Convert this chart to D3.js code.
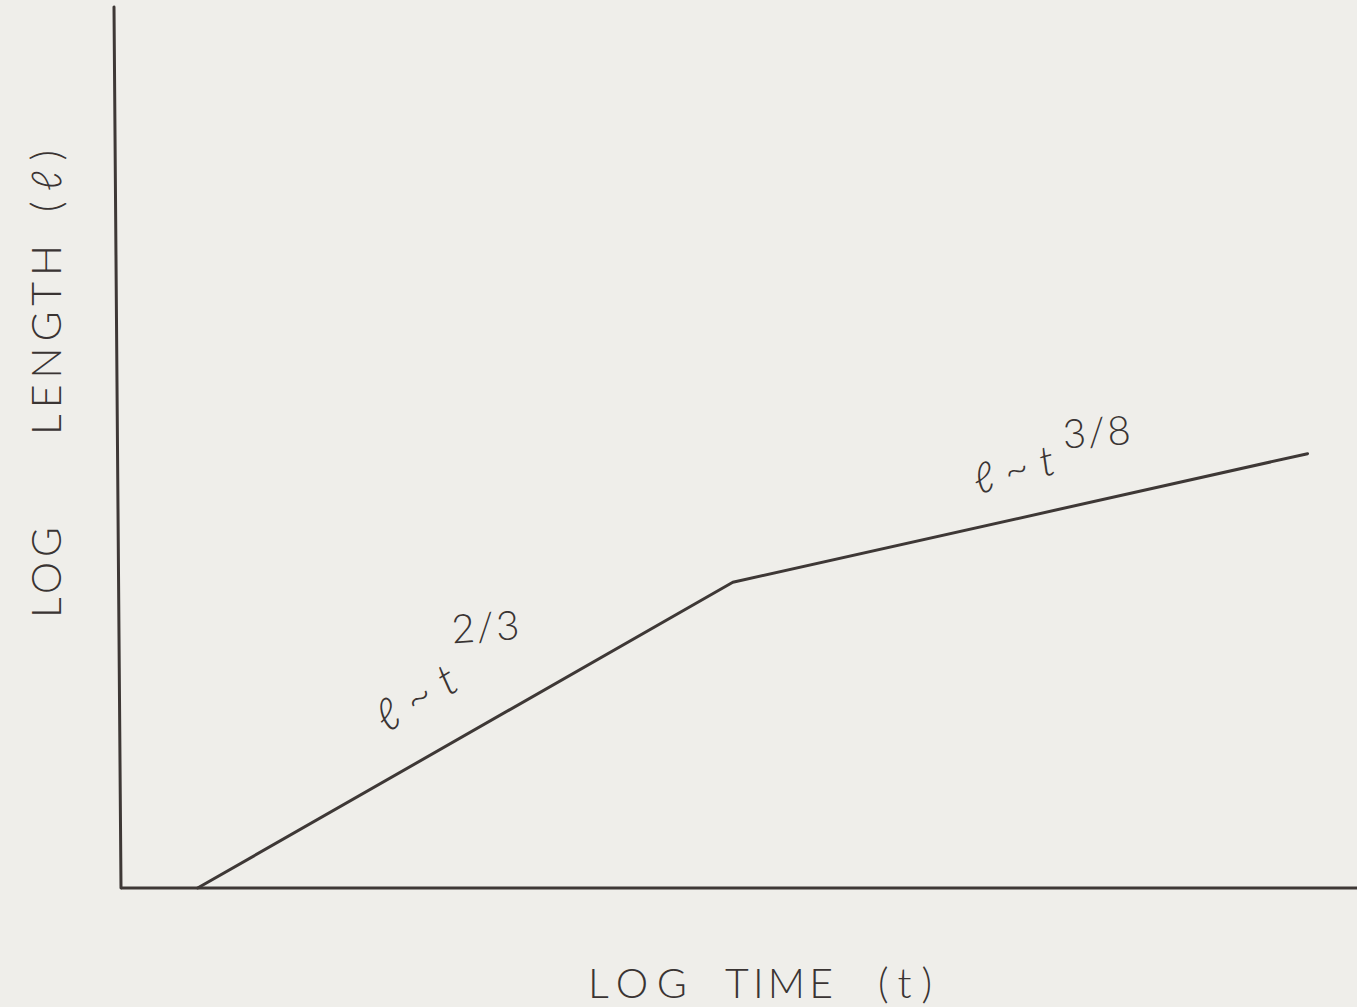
<!DOCTYPE html>
<html>
<head>
<meta charset="utf-8">
<script src="https://cdn.jsdelivr.net/npm/d3@7"></script>
<style>
  html, body { margin: 0; padding: 0; background: #efeeea; }
  svg { display: block; }
  .lbl { font-family: Lato, "Open Sans", sans-serif; font-weight: 300; fill: #3a3433; }
</style>
</head>
<body>
<svg id="chart" width="1357" height="1007"></svg>
<script>
// Schematic growth law: log length vs log time, two power-law regimes
const logTime   = [0.62, 4.95, 9.60];
const logLength = [0.0, 3.47, 4.93];
const regimeLabels = [
  { base: "\u2113~t", exp: "2/3", at: 0.42 },
  { base: "\u2113~t", exp: "3/8", at: 0.48 }
];
const xTitleWords = ["LOG", "TIME", "(t)"];
const yTitleWords = ["LOG", "LENGTH", "(\u2113)"];

const W = 1357, H = 1007;
const ink = "#3e3836";
const svg = d3.select("#chart");
svg.append("rect").attr("width", W).attr("height", H).attr("fill", "#efeeea");

const x = d3.scaleLinear().domain([0, 10]).range([121, 1357]);
const y = d3.scaleLinear().domain([0, 10]).range([888, 7]);

// axes: plain lines with no ticks
svg.append("line")
  .attr("x1", 114).attr("y1", y(10)).attr("x2", 121).attr("y2", y(0))
  .attr("stroke", ink).attr("stroke-width", 3).attr("stroke-linecap", "round");
svg.append("line")
  .attr("x1", 121).attr("y1", y(0)).attr("x2", x(10)).attr("y2", y(0))
  .attr("stroke", ink).attr("stroke-width", 3);

// growth curve
const pts = logTime.map((t, i) => [t, logLength[i]]);
svg.append("path")
  .datum(pts)
  .attr("d", d3.line().x(d => x(d[0])).y(d => y(d[1])))
  .attr("fill", "none").attr("stroke", ink)
  .attr("stroke-width", 3).attr("stroke-linejoin", "round").attr("stroke-linecap", "round");

// regime labels placed above each segment, rotated along it
const segLbl = [
  { dx: -36, dy: -26, rot: -31, size: 44, ls: 13, expRot: -4, ex: 66, ey: -90 },
  { dx: -31, dy: -26, rot: -15, size: 42, ls: 12, expRot: -4, ex: 86, ey: -46 }
];
regimeLabels.forEach((r, i) => {
  const s = segLbl[i];
  const t = logTime[i] + (logTime[i + 1] - logTime[i]) * r.at;
  const l = logLength[i] + (logLength[i + 1] - logLength[i]) * r.at;
  const g = svg.append("g").attr("transform", `translate(${x(t) + s.dx},${y(l) + s.dy})`);
  g.append("text").attr("class", "lbl")
    .attr("font-size", s.size).attr("font-style", "italic")
    .attr("letter-spacing", s.ls)
    .attr("transform", `rotate(${s.rot})`)
    .text(r.base);
  g.append("text").attr("class", "lbl")
    .attr("font-size", 40)
    .attr("letter-spacing", 2)
    .attr("transform", `translate(${s.ex},${s.ey}) rotate(${s.expRot})`)
    .text(r.exp);
});

// axis titles, word by word with wide gaps
const xWordStart = [588, 725, 878];
const xWordLen = [99, 108, 54];
xTitleWords.forEach((w, i) => {
  svg.append("text").attr("class", "lbl")
    .attr("x", xWordStart[i]).attr("y", 998)
    .attr("font-size", 41)
    .attr("textLength", xWordLen[i]).attr("lengthAdjust", "spacing")
    .text(w);
});

const yWordStart = [618, 435, 212];
const yWordLen = [91, 190, 62];
yTitleWords.forEach((w, i) => {
  svg.append("text").attr("class", "lbl")
    .attr("transform", `translate(61,${yWordStart[i]}) rotate(-90)`)
    .attr("font-size", 41)
    .attr("textLength", yWordLen[i]).attr("lengthAdjust", "spacing")
    .text(w);
});
</script>
</body>
</html>
